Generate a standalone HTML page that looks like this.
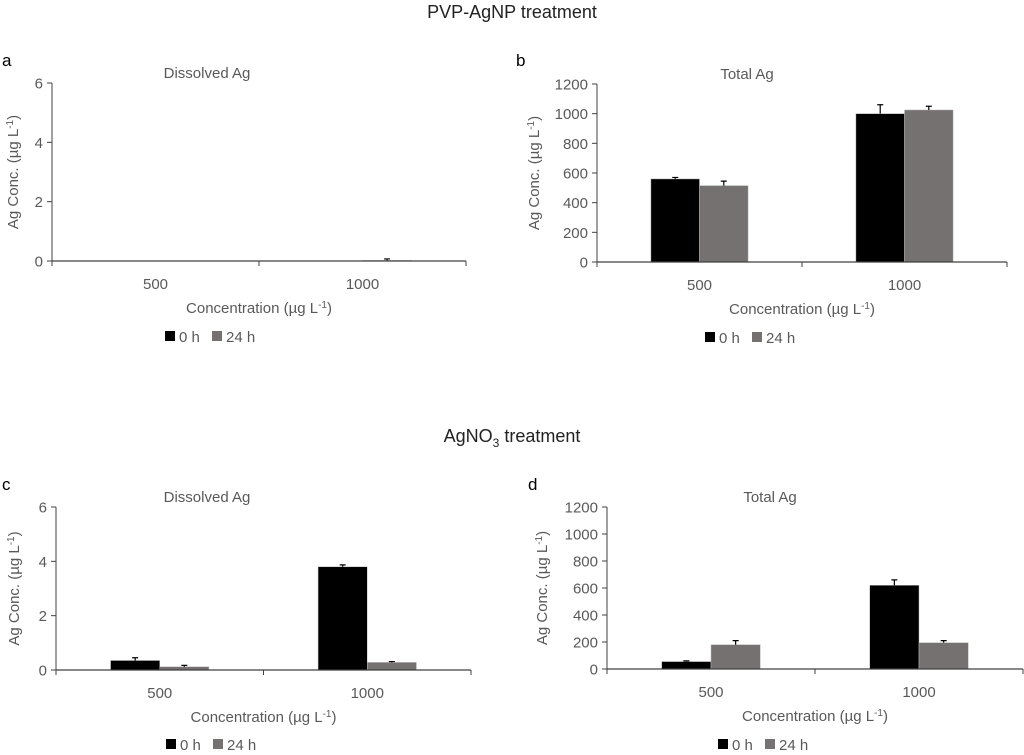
<!DOCTYPE html>
<html><head><meta charset="utf-8"><style>
body{margin:0;background:#fff;width:1024px;height:750px;overflow:hidden}
svg{font-family:"Liberation Sans",sans-serif}
</style></head><body>
<svg id="fig" width="1024" height="750" xmlns="http://www.w3.org/2000/svg">
<text x="512" y="18" text-anchor="middle" font-size="18" fill="#222">PVP-AgNP treatment</text>
<text x="512" y="442" text-anchor="middle" font-size="18" fill="#222">AgNO<tspan font-size="12" dy="5">3</tspan><tspan dy="-5"> treatment</tspan></text>
</svg>
<script>
const categories = ["500", "1000"];
const seriesNames = ["0 h", "24 h"];
const aVals0 = [0, 0], aVals24 = [0, 0.02], aErr0 = [0, 0], aErr24 = [0, 0.05];
const bVals0 = [560, 1000], bVals24 = [515, 1025], bErr0 = [10, 60], bErr24 = [30, 25];
const cVals0 = [0.35, 3.8], cVals24 = [0.12, 0.28], cErr0 = [0.1, 0.07], cErr24 = [0.05, 0.03];
const dVals0 = [55, 620], dVals24 = [180, 195], dErr0 = [5, 40], dErr24 = [30, 15];
const smallTicks = [0, 2, 4, 6];
const bigTicks = [0, 200, 400, 600, 800, 1000, 1200];

const svg = document.getElementById('fig');
const NS = 'http://www.w3.org/2000/svg';
function mk(tag, attrs, text) {
  const e = document.createElementNS(NS, tag);
  for (const k in attrs) e.setAttribute(k, attrs[k]);
  if (text !== undefined) e.textContent = text;
  svg.appendChild(e);
  return e;
}
const panels = [
  {id:'a', letter:'a', lx:2, ly:66, title:'Dissolved Ag', tx:207, x0:52, x1:466, y0:261, y1:83, max:6, ticks:smallTicks, v:[aVals0,aVals24], e:[aErr0,aErr24], ytx:18, legY:336, legX:165},
  {id:'b', letter:'b', lx:516, ly:66, title:'Total Ag', tx:747, x0:597, x1:1007, y0:262, y1:84, max:1200, ticks:bigTicks, v:[bVals0,bVals24], e:[bErr0,bErr24], ytx:539, legY:337, legX:705},
  {id:'c', letter:'c', lx:2, ly:490, title:'Dissolved Ag', tx:207, x0:56, x1:471, y0:670, y1:507, max:6, ticks:smallTicks, v:[cVals0,cVals24], e:[cErr0,cErr24], ytx:19, legY:744, legX:166},
  {id:'d', letter:'d', lx:528, ly:490, title:'Total Ag', tx:770, x0:607, x1:1023, y0:669, y1:507, max:1200, ticks:bigTicks, v:[dVals0,dVals24], e:[dErr0,dErr24], ytx:547, legY:744, legX:718}
];
const colors = ['#000000', '#757171'];
panels.forEach(p => {
  const ys = v => p.y0 - v / p.max * (p.y0 - p.y1);
  const cw = (p.x1 - p.x0) / categories.length;
  const bw = cw * 0.237;
  const cx = i => p.x0 + cw * (i + 0.5);
  let t;
  t = mk('text', {x:p.lx, y:p.ly, 'font-size':17, fill:'#000'}, p.letter);
  
  
  t = mk('text', {x:p.tx, y:p.y1 - 5, 'text-anchor':'middle', 'font-size':15, fill:'#595959'}, p.title);
  
  
  let l = mk('line', {x1:p.x0, x2:p.x0, y1:p.y1, y2:p.y0, stroke:'#404040', 'stroke-width':1});
  
  
  p.ticks.forEach(tv => {
    const y = ys(tv);
    const tk = mk('line', {x1:p.x0-5, x2:p.x0, y1:y, y2:y, stroke:'#404040'});
    
    
    const tl = mk('text', {x:p.x0-9, y:y+5.5, 'text-anchor':'end', 'font-size':15, fill:'#595959'}, String(tv));
    
    
  });
  const ymid = (p.y0 + p.y1) / 2;
  t = mk('text', {x:p.ytx, y:ymid, 'text-anchor':'middle', 'font-size':15, fill:'#595959', transform:`rotate(-90 ${p.ytx} ${ymid})`});
  t.innerHTML = 'Ag Conc. (µg L<tspan font-size="10" dy="-5">-1</tspan><tspan dy="5">)</tspan>';
  
  
  categories.forEach((c, i) => {
    p.v.forEach((vals, s) => {
      const x = cx(i) - bw + s * bw;
      const y = ys(vals[i]);
      const r = mk('rect', {x:x, y:y, width:bw, height:Math.max(0, p.y0 - y), fill:colors[s], stroke:'#bbb', 'stroke-width':0.5});
      
      
      const err = p.e[s][i];
      if (err > 0) {
        const ex = x + bw / 2, ey = ys(vals[i] + err);
        const el = mk('path', {d:`M${ex},${y}V${ey}M${ex-3},${ey}H${ex+3}`, stroke:'#000', 'stroke-width':1.2, fill:'none'});
        
        
      }
    });
    const cl = mk('text', {x:cx(i), y:p.y0+28, 'text-anchor':'middle', 'font-size':15, fill:'#595959'}, c);
    
    
  });
  l = mk('line', {x1:p.x0, x2:p.x1, y1:p.y0, y2:p.y0, stroke:'#404040', 'stroke-width':1.2});
  
  
  for (let k = 0; k <= categories.length; k++) {
    const x = p.x0 + cw * k;
    const tk = mk('line', {x1:x, x2:x, y1:p.y0, y2:p.y0+5, stroke:'#404040'});
    
    
  }
  t = mk('text', {x:(p.x0+p.x1)/2, y:p.y0+52, 'text-anchor':'middle', 'font-size':15, fill:'#595959'});
  t.innerHTML = 'Concentration (µg L<tspan font-size="10" dy="-5">-1</tspan><tspan dy="5">)</tspan>';
  
  
  seriesNames.forEach((n, s) => {
    const lx = p.legX + s * 47;
    const sq = mk('rect', {x:lx, y:p.legY-5, width:10, height:10, fill:colors[s]});
    
    
    const lt = mk('text', {x:lx+14, y:p.legY+6, 'font-size':15, fill:'#595959'}, n);
    
    
  });
});
</script>
</body></html>
